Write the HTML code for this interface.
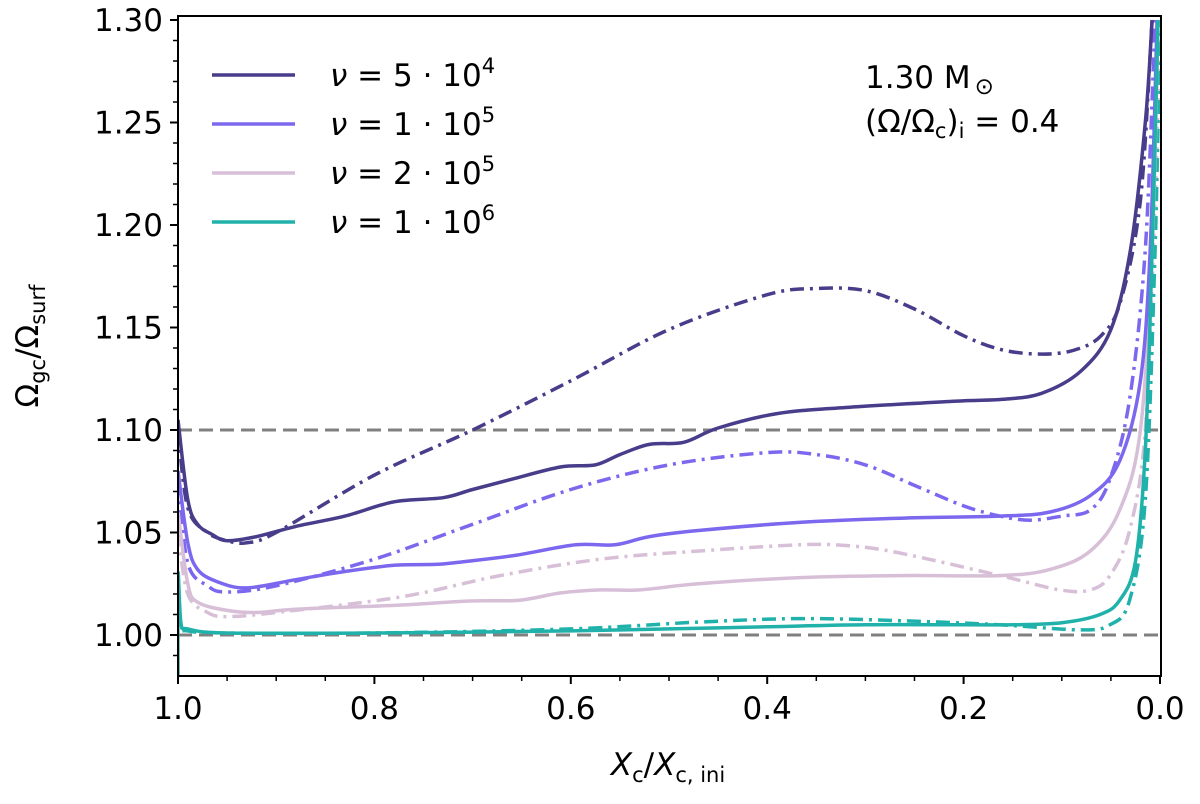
<!DOCTYPE html>
<html><head><meta charset="utf-8"><style>
body{margin:0;background:#fff}
svg text{font-family:"DejaVu Sans","Liberation Sans",sans-serif;fill:#000}
</style></head><body>
<svg id="chart" width="1200" height="799" xmlns="http://www.w3.org/2000/svg">
<defs><clipPath id="clip"><rect x="178" y="16" width="983" height="660"/></clipPath></defs>
<g id="grid"></g>
<g id="series" clip-path="url(#clip)"></g>
<rect x="178" y="16" width="983" height="660" fill="none" stroke="#000" stroke-width="2"/>
<g id="axes"></g>
<g id="legend"></g>
<text x="865" y="88" font-size="31">1.30 M<tspan dx="4" dy="6" font-size="23">⊙</tspan></text>
<text x="865" y="132" font-size="31">(Ω/Ω<tspan font-size="21" dy="6">c</tspan><tspan dy="-6">)</tspan><tspan font-size="21" dy="6">i</tspan><tspan dy="-6"> = 0.4</tspan></text>
<text transform="translate(38,346) rotate(-90)" text-anchor="middle" font-size="31">Ω<tspan font-size="21" dy="7">gc</tspan><tspan dy="-7">/Ω</tspan><tspan font-size="21" dy="7">surf</tspan></text>
<text x="668" y="775" text-anchor="middle" font-size="31"><tspan font-style="italic">X</tspan><tspan font-size="21" dy="7">c</tspan><tspan dy="-7">/</tspan><tspan font-style="italic">X</tspan><tspan font-size="21" dy="7">c, ini</tspan></text>
</svg>
<script>
const xTicks=[1.0,0.8,0.6,0.4,0.2,0.0];
const xTickLabels=["1.0","0.8","0.6","0.4","0.2","0.0"];
const yTicks=[1.00,1.05,1.10,1.15,1.20,1.25,1.30];
const yTickLabels=["1.00","1.05","1.10","1.15","1.20","1.25","1.30"];
const refLines=[1.00,1.10];
const legendLabels=["5","1","2","1"];
const legendExps=["4","5","5","6"];
const colors=["#483d8b","#7b68ee","#d8bfd8","#20b2aa"];
const darkSolidX=[1.0,0.99,0.98,0.965,0.95,0.92,0.88,0.83,0.78,0.73,0.70,0.66,0.61,0.575,0.55,0.52,0.485,0.45,0.39,0.32,0.21,0.16,0.12,0.08,0.05,0.03,0.015,0.008];
const darkSolidY=[1.105,1.066,1.054,1.049,1.046,1.048,1.053,1.058,1.065,1.067,1.071,1.076,1.082,1.083,1.088,1.093,1.094,1.101,1.108,1.111,1.114,1.115,1.118,1.129,1.149,1.188,1.25,1.30];
const darkDashX=[1.0,0.99,0.97,0.95,0.93,0.9,0.8,0.70,0.6,0.5,0.4,0.35,0.3,0.25,0.2,0.16,0.12,0.087,0.06,0.04,0.02,0.008];
const darkDashY=[1.10,1.062,1.05,1.046,1.045,1.05,1.078,1.10,1.124,1.149,1.166,1.169,1.168,1.159,1.146,1.139,1.137,1.139,1.146,1.163,1.212,1.30];
const medSolidX=[1.0,0.99,0.98,0.96,0.93,0.88,0.83,0.78,0.735,0.705,0.655,0.595,0.555,0.52,0.47,0.365,0.265,0.163,0.112,0.071,0.041,0.02,0.01,0.003];
const medSolidY=[1.08,1.045,1.032,1.026,1.023,1.027,1.031,1.034,1.0345,1.036,1.039,1.044,1.044,1.048,1.051,1.055,1.057,1.058,1.060,1.068,1.085,1.124,1.188,1.30];
const medDashX=[1.0,0.99,0.97,0.95,0.9,0.8,0.7,0.6,0.5,0.4,0.35,0.3,0.25,0.2,0.163,0.132,0.1,0.071,0.051,0.031,0.015,0.005];
const medDashY=[1.075,1.035,1.024,1.021,1.024,1.037,1.054,1.071,1.083,1.089,1.088,1.083,1.073,1.063,1.058,1.056,1.058,1.061,1.076,1.115,1.188,1.30];
const lightSolidX=[1.0,0.99,0.98,0.95,0.92,0.876,0.774,0.703,0.652,0.611,0.57,0.53,0.47,0.367,0.265,0.163,0.112,0.071,0.041,0.02,0.008,0.002];
const lightSolidY=[1.06,1.025,1.016,1.012,1.011,1.0127,1.0146,1.0166,1.017,1.0205,1.022,1.022,1.025,1.028,1.029,1.029,1.032,1.041,1.061,1.10,1.188,1.30];
const lightDashX=[1.0,0.99,0.97,0.95,0.9,0.774,0.672,0.57,0.469,0.367,0.316,0.265,0.163,0.102,0.071,0.051,0.031,0.015,0.005,0.0];
const lightDashY=[1.05,1.02,1.011,1.009,1.011,1.0185,1.029,1.037,1.041,1.044,1.0435,1.040,1.029,1.022,1.022,1.029,1.051,1.10,1.212,1.30];
const tealSolidX=[1.0,1.0,0.997,0.99,0.95,0.8,0.6,0.5,0.4,0.3,0.2,0.15,0.1,0.061,0.041,0.025,0.015,0.008,0.002];
const tealSolidY=[0.98,1.03,1.006,1.003,1.001,1.001,1.002,1.003,1.004,1.005,1.005,1.005,1.006,1.01,1.017,1.036,1.09,1.188,1.30];
const tealDashX=[1.0,0.997,0.99,0.95,0.8,0.6,0.47,0.367,0.265,0.163,0.081,0.051,0.031,0.015,0.005,0.0];
const tealDashY=[1.03,1.005,1.002,1.001,1.001,1.003,1.0063,1.008,1.007,1.005,1.0025,1.005,1.017,1.066,1.188,1.30];

const NS="http://www.w3.org/2000/svg";
const X0=178,X1=1160,Y1=1.00,PY1=635,PPU=2050;
function sx(v){return X1-(X1-X0)*v;}
function sy(v){return PY1-(v-Y1)*PPU;}
function mk(tag,parent,attrs){const e=document.createElementNS(NS,tag);for(const k in attrs)e.setAttribute(k,attrs[k]);parent.appendChild(e);return e;}
function smooth(P){let d='M'+P[0][0].toFixed(1)+' '+P[0][1].toFixed(1);
for(let i=0;i<P.length-1;i++){const p0=P[i-1]||P[i],p1=P[i],p2=P[i+1],p3=P[i+2]||p2;
const c1=[p1[0]+(p2[0]-p0[0])/6,p1[1]+(p2[1]-p0[1])/6],c2=[p2[0]-(p3[0]-p1[0])/6,p2[1]-(p3[1]-p1[1])/6];
d+=' C'+c1[0].toFixed(1)+' '+c1[1].toFixed(1)+' '+c2[0].toFixed(1)+' '+c2[1].toFixed(1)+' '+p2[0].toFixed(1)+' '+p2[1].toFixed(1);}
return d;}
const grid=document.getElementById('grid'),series=document.getElementById('series'),axes=document.getElementById('axes'),legend=document.getElementById('legend');
refLines.forEach(v=>{const l=mk('line',grid,{x1:178,x2:1161,y1:sy(v),y2:sy(v),stroke:'#808080','stroke-width':3,'stroke-dasharray':'14 7'});

});
const sets=[[darkDashX,darkDashY,0,true],[medDashX,medDashY,1,true],[lightDashX,lightDashY,2,true],[tealDashX,tealDashY,3,true],
[lightSolidX,lightSolidY,2,false],[medSolidX,medSolidY,1,false],[darkSolidX,darkSolidY,0,false],[tealSolidX,tealSolidY,3,false]];
sets.forEach(s=>{const P=s[0].map((x,i)=>[sx(x),sy(s[1][i])]);
const a={d:smooth(P),fill:'none',stroke:colors[s[2]],'stroke-width':3.5,'stroke-linejoin':'round'};
if(s[3])a['stroke-dasharray']='14 6 3 6';
const p=mk('path',series,a);

});
xTicks.forEach((v,i)=>{mk('line',axes,{x1:sx(v),x2:sx(v),y1:676,y2:684,stroke:'#000','stroke-width':2});
const t=mk('text',axes,{x:sx(v),y:719,'text-anchor':'middle','font-size':31});t.textContent=xTickLabels[i];

});
for(let k=1;k<20;k++){const v=k*0.05;if(k%4)mk('line',axes,{x1:sx(v),x2:sx(v),y1:676,y2:681,stroke:'#000','stroke-width':1.5});}
yTicks.forEach((v,i)=>{mk('line',axes,{x1:170,x2:178,y1:sy(v),y2:sy(v),stroke:'#000','stroke-width':2});
const t=mk('text',axes,{x:163,y:sy(v)+11,'text-anchor':'end','font-size':31});t.textContent=yTickLabels[i];

});
for(let k=-1;k<=30;k++){const v=1+k*0.01;if(k%5!==0)mk('line',axes,{x1:173,x2:178,y1:sy(v),y2:sy(v),stroke:'#000','stroke-width':1.5});}
legendLabels.forEach((m,i)=>{const y=75+i*49;
const l=mk('line',legend,{x1:212,x2:295,y1:y,y2:y,stroke:colors[i],'stroke-width':3.5});


const t=mk('text',legend,{x:330,y:y+11,'font-size':31});
t.innerHTML='<tspan font-style="italic">ν</tspan> = '+m+' · 10<tspan font-size="21" dy="-13">'+legendExps[i]+'</tspan>';

});
</script>
</body></html>
